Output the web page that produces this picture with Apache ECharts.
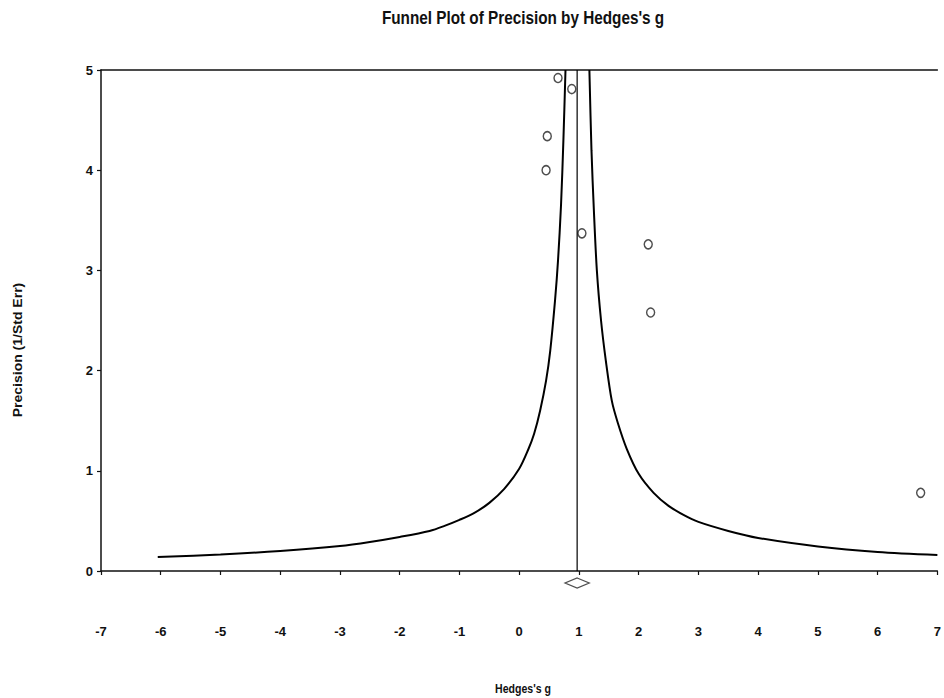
<!DOCTYPE html>
<html>
<head>
<meta charset="utf-8">
<title>Funnel Plot of Precision by Hedges's g</title>
<script src="https://cdn.jsdelivr.net/npm/echarts@6/dist/echarts.min.js"></script>
<style>
  html, body { margin: 0; padding: 0; background: #fff; overflow: hidden; }
  #chart { width: 944px; height: 698px; }
</style>
</head>
<body>
<div id="chart"></div>
<script>
// studies (Hedges's g, precision = 1/SE)
const studyG = [0.65, 0.88, 0.47, 0.45, 1.05, 2.16, 2.20, 6.72];
const studyP = [4.92, 4.81, 4.34, 4.00, 3.37, 3.26, 2.58, 0.78];

// summary effect and its interval (diamond under the axis)
const summaryG = 0.97;
const summaryLow = 0.77;
const summaryHigh = 1.17;

// funnel limits
const leftG = [-6.05, -5, -4, -3, -2.5, -2, -1.5, -1.25, -1, -0.75, -0.5, -0.25, 0, 0.15, 0.25, 0.35, 0.45, 0.52, 0.6, 0.65, 0.7, 0.74, 0.775];
const leftP = [0.14, 0.165, 0.2, 0.25, 0.29, 0.34, 0.4, 0.45, 0.51, 0.58, 0.68, 0.82, 1.02, 1.21, 1.37, 1.6, 1.9, 2.2, 2.7, 3.1, 3.65, 4.3, 5.0];
const rightG = [1.175, 1.21, 1.25, 1.3, 1.37, 1.45, 1.55, 1.65, 1.8, 2.0, 2.25, 2.5, 2.75, 3.0, 3.5, 4.0, 5.0, 6.0, 7.0];
const rightP = [5.0, 4.2, 3.6, 3.0, 2.5, 2.1, 1.7, 1.48, 1.22, 0.97, 0.78, 0.65, 0.56, 0.49, 0.4, 0.33, 0.245, 0.19, 0.16];

// axis ranges
const xMin = -7, xMax = 7, xStep = 1;
const yMin = 0, yMax = 5, yStep = 1;

const FONT = "'Liberation Sans', Arial, sans-serif";
const INK = '#111';

const zip = (a, b) => a.map((v, i) => [v, b[i]]);

const chart = echarts.init(document.getElementById('chart'), null, { renderer: 'svg' });

const option = {
  backgroundColor: '#fff',
  animation: false,
  grid: { left: 101, top: 70, width: 844, height: 501 },
  graphic: [
    {
      type: 'text', x: 523, y: 18, scaleX: 0.85,
      style: { text: "Funnel Plot of Precision by Hedges's g", fill: INK,
        font: 'bold 18px ' + FONT, align: 'center', verticalAlign: 'middle' }
    },
    {
      type: 'text', x: 523, y: 689, scaleX: 0.88,
      style: { text: "Hedges's g", fill: INK,
        font: 'bold 12px ' + FONT, align: 'center', verticalAlign: 'middle' }
    },
    {
      type: 'text', x: 18, y: 350, rotation: Math.PI / 2, scaleY: 0.85,
      style: { text: 'Precision (1/Std Err)', fill: INK,
        font: 'bold 14px ' + FONT, align: 'center', verticalAlign: 'middle' }
    }
  ],
  xAxis: [
    {
      type: 'value', position: 'bottom', min: xMin, max: xMax, interval: xStep,
      axisLine: { onZero: false, lineStyle: { color: INK, width: 1.5 } },
      axisTick: { show: true, length: 4, lineStyle: { color: INK, width: 1.2 } },
      axisLabel: { margin: 54, color: INK, fontSize: 13, fontWeight: 'bold', fontFamily: FONT },
      splitLine: { show: false }
    },
    {
      type: 'value', position: 'top', min: xMin, max: xMax, interval: xStep,
      axisLine: { onZero: false, lineStyle: { color: INK, width: 1.5 } },
      axisTick: { show: false }, axisLabel: { show: false }, splitLine: { show: false }
    }
  ],
  yAxis: {
    type: 'value', min: yMin, max: yMax, interval: yStep,
    axisLine: { show: true, onZero: false, lineStyle: { color: INK, width: 1.5 } },
    axisTick: { show: true, length: 4, lineStyle: { color: INK, width: 1.2 } },
    axisLabel: { margin: 8, color: INK, fontSize: 13, fontWeight: 'bold', fontFamily: FONT },
    splitLine: { show: false }
  },
  series: [
    {
      name: 'lower limit', type: 'line', data: zip(leftG, leftP),
      smooth: 0.3, symbol: 'none',
      lineStyle: { color: '#000', width: 2 }
    },
    {
      name: 'upper limit', type: 'line', data: zip(rightG, rightP),
      smooth: 0.3, symbol: 'none',
      lineStyle: { color: '#000', width: 2 }
    },
    {
      name: 'summary', type: 'line', data: [[summaryG, yMin], [summaryG, yMax]],
      symbol: 'none', lineStyle: { color: '#000', width: 1.2 }
    },
    {
      name: 'studies', type: 'scatter', data: zip(studyG, studyP),
      symbol: 'circle', symbolSize: [8, 9], clip: false,
      itemStyle: { color: '#fff', borderColor: '#222', borderWidth: 1.5 }
    },
    {
      name: 'summary diamond', type: 'scatter', data: [[summaryG, yMin]],
      symbol: 'diamond',
      symbolSize: [(summaryHigh - summaryLow) * 60.3, 10],
      symbolOffset: [0, 12], clip: false,
      itemStyle: { color: '#fff', borderColor: '#222', borderWidth: 1.5 }
    }
  ]
};

chart.setOption(option);
</script>
</body>
</html>
